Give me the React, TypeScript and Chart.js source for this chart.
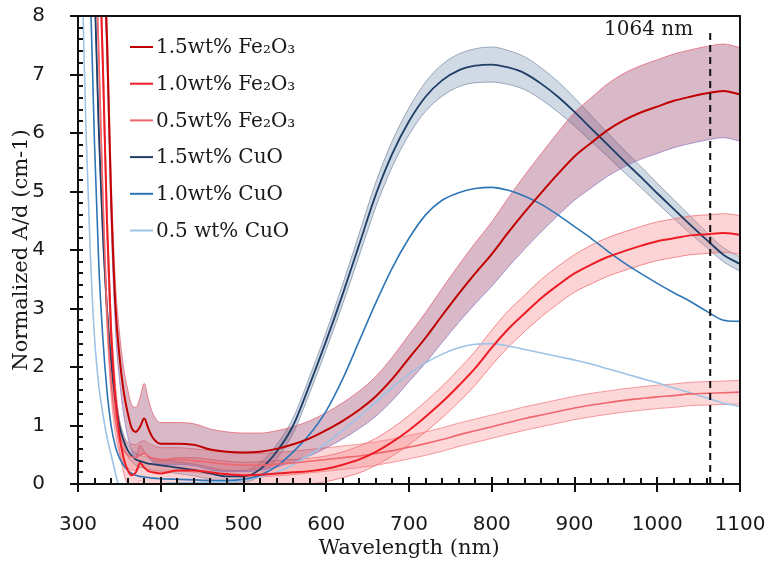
import React, { useEffect, useRef } from "react";
import { Chart, registerables } from "chart.js";

Chart.register(...registerables);

// ---------------- DATA ----------------
const WAVELENGTHS = [
  300, 305, 310, 315, 320, 325, 330, 335, 340, 345, 350, 355, 360, 365, 370, 375, 380, 385, 390,
  400, 420, 440, 460, 480, 500, 520, 540, 560, 580, 600, 620, 640, 660, 680, 700, 720, 740, 760, 780,
  800, 820, 840, 860, 880, 900, 920, 940, 960, 980, 1000, 1020, 1040, 1060, 1080, 1100,
];

const FE15 = [
  20, 18, 16, 14, 12.5, 11, 9.5, 7.6, 4.9, 3.1, 2.2, 1.6, 1.22, 0.95, 0.89, 0.98, 1.12, 0.95, 0.8,
  0.69, 0.69, 0.67, 0.59, 0.55, 0.54, 0.55, 0.6, 0.68, 0.78, 0.92, 1.08, 1.27, 1.5, 1.8, 2.15, 2.5, 2.88, 3.25, 3.6,
  3.93, 4.3, 4.65, 4.98, 5.3, 5.6, 5.83, 6.05, 6.22, 6.35, 6.45, 6.55, 6.62, 6.68, 6.72, 6.66,
];
const FE15_ERR = [
  0.4, 0.4, 0.4, 0.4, 0.4, 0.4, 0.4, 0.4, 0.4, 0.4, 0.4, 0.4, 0.4, 0.4, 0.42, 0.5, 0.6, 0.5, 0.42,
  0.36, 0.36, 0.36, 0.35, 0.34, 0.33, 0.32, 0.31, 0.3, 0.3, 0.3, 0.31, 0.32, 0.34, 0.37, 0.4, 0.43, 0.46, 0.49, 0.52,
  0.55, 0.59, 0.63, 0.67, 0.71, 0.75, 0.77, 0.79, 0.8, 0.8, 0.8, 0.8, 0.8, 0.8, 0.8, 0.8,
];

const FE10 = [
  18, 16, 14, 12.5, 11, 9.5, 7.2, 4.5, 2.6, 1.5, 0.85, 0.45, 0.24, 0.15, 0.2, 0.36, 0.28, 0.22, 0.2,
  0.18, 0.23, 0.23, 0.2, 0.17, 0.15, 0.16, 0.18, 0.2, 0.22, 0.26, 0.33, 0.42, 0.55, 0.72, 0.92, 1.15, 1.4, 1.68, 1.98,
  2.33, 2.65, 2.92, 3.18, 3.4, 3.6, 3.75, 3.88, 3.98, 4.07, 4.15, 4.2, 4.25, 4.27, 4.29, 4.26,
];
const FE10_ERR = [
  0.25, 0.25, 0.25, 0.25, 0.25, 0.25, 0.25, 0.25, 0.25, 0.25, 0.25, 0.25, 0.25, 0.25, 0.25, 0.3, 0.28, 0.25, 0.25,
  0.22, 0.22, 0.22, 0.22, 0.22, 0.22, 0.22, 0.22, 0.22, 0.22, 0.22, 0.22, 0.23, 0.23, 0.24, 0.25, 0.26, 0.27, 0.28, 0.29,
  0.3, 0.31, 0.31, 0.32, 0.32, 0.32, 0.33, 0.33, 0.33, 0.33, 0.33, 0.33, 0.33, 0.33, 0.33, 0.33,
];

const FE05 = [
  16, 14, 12.5, 11, 9.5, 7.4, 4.9, 2.9, 1.75, 1.1, 0.75, 0.58, 0.5, 0.46, 0.45, 0.5, 0.52, 0.47, 0.44,
  0.42, 0.42, 0.4, 0.37, 0.34, 0.32, 0.32, 0.34, 0.36, 0.39, 0.42, 0.45, 0.48, 0.52, 0.57, 0.63, 0.69, 0.76, 0.84, 0.91,
  0.98, 1.05, 1.12, 1.18, 1.24, 1.3, 1.35, 1.39, 1.43, 1.46, 1.49, 1.51, 1.54, 1.55, 1.56, 1.57,
];
const FE05_ERR = [
  0.22, 0.22, 0.22, 0.22, 0.22, 0.22, 0.22, 0.22, 0.22, 0.22, 0.22, 0.22, 0.22, 0.22, 0.22, 0.22, 0.22, 0.22, 0.22,
  0.2, 0.2, 0.2, 0.2, 0.2, 0.2, 0.2, 0.2, 0.2, 0.2, 0.2, 0.2, 0.2, 0.2, 0.2, 0.2, 0.2, 0.2, 0.2, 0.2,
  0.2, 0.2, 0.2, 0.2, 0.2, 0.2, 0.2, 0.2, 0.2, 0.2, 0.2, 0.2, 0.2, 0.2, 0.2, 0.2,
];

const CU15 = [
  16, 14, 12, 10.5, 8.5, 6.1, 4.3, 3.0, 2.1, 1.45, 1.0, 0.75, 0.58, 0.48, 0.42, 0.39, 0.37, 0.35, 0.34,
  0.32, 0.28, 0.24, 0.18, 0.13, 0.13, 0.25, 0.55, 1.0, 1.7, 2.45, 3.25, 4.1, 4.95, 5.65, 6.2, 6.62, 6.9, 7.07, 7.15,
  7.17, 7.12, 7.02, 6.84, 6.62, 6.36, 6.08, 5.8, 5.52, 5.25, 4.97, 4.7, 4.43, 4.17, 3.92, 3.76,
];
const CU15_ERR = [
  0.1, 0.1, 0.1, 0.1, 0.1, 0.1, 0.1, 0.1, 0.1, 0.1, 0.1, 0.1, 0.1, 0.1, 0.1, 0.1, 0.1, 0.1, 0.1,
  0.1, 0.1, 0.1, 0.1, 0.1, 0.1, 0.11, 0.12, 0.13, 0.14, 0.15, 0.17, 0.19, 0.21, 0.22, 0.23, 0.25, 0.27, 0.28, 0.29,
  0.3, 0.29, 0.28, 0.27, 0.26, 0.24, 0.22, 0.2, 0.19, 0.18, 0.17, 0.16, 0.15, 0.13, 0.12, 0.12,
];

const CU10 = [
  14, 12, 10.5, 8.4, 5.8, 3.8, 2.5, 1.6, 1.0, 0.65, 0.45, 0.32, 0.24, 0.18, 0.15, 0.13, 0.12, 0.11, 0.1,
  0.09, 0.08, 0.07, 0.06, 0.06, 0.08, 0.15, 0.3, 0.55, 0.85, 1.25, 1.8, 2.45, 3.1, 3.7, 4.2, 4.6, 4.85, 4.98, 5.05,
  5.07, 5.02, 4.92, 4.78, 4.6, 4.4, 4.2, 3.98, 3.78, 3.6, 3.43, 3.27, 3.12, 2.95, 2.8, 2.78,
];

const CU05 = [
  11, 8.6, 5.9, 3.9, 2.5, 1.7, 1.2, 0.8, 0.5, 0.2, -0.1, -0.3, -0.45, -0.5, -0.5, -0.45, -0.35, -0.25, -0.12,
  0.0, 0.02, 0.02, 0.03, 0.04, 0.06, 0.12, 0.2, 0.33, 0.5, 0.7, 0.92, 1.15, 1.4, 1.65, 1.88, 2.07, 2.22, 2.33, 2.39,
  2.4, 2.36, 2.3, 2.24, 2.18, 2.12, 2.05, 1.97, 1.89, 1.81, 1.73, 1.64, 1.56, 1.47, 1.38, 1.33,
];

const SERIES_LABELS = [
  "1.5wt% Fe\u2082O\u2083",
  "1.0wt% Fe\u2082O\u2083",
  "0.5wt% Fe\u2082O\u2083",
  "1.5wt% CuO",
  "1.0wt% CuO",
  "0.5 wt% CuO",
];

const X_TICKS = [300, 400, 500, 600, 700, 800, 900, 1000, 1100];
const Y_TICKS = [0, 1, 2, 3, 4, 5, 6, 7, 8];
const MARKER_NM = 1064;
const MARKER_LABEL = "1064 nm";
const X_TITLE = "Wavelength (nm)";
const Y_TITLE = "Normalized A/d (cm-1)";

// ---------------- STYLE ----------------
const SERIES = [
  { label: SERIES_LABELS[0], values: FE15, err: FE15_ERR, color: "#C00000", width: 2,
    band: "rgba(150,60,100,0.36)", edgeUp: "rgba(230,115,130,0.9)", edgeDown: "rgba(150,145,220,0.8)" },
  { label: SERIES_LABELS[1], values: FE10, err: FE10_ERR, color: "#EE1C25", width: 2,
    band: "rgba(246,120,125,0.32)", edgeUp: "rgba(240,120,125,0.85)", edgeDown: "rgba(240,120,125,0.85)" },
  { label: SERIES_LABELS[2], values: FE05, err: FE05_ERR, color: "#F0676E", width: 1.6,
    band: "rgba(246,125,130,0.3)", edgeUp: "rgba(242,130,135,0.8)", edgeDown: "rgba(242,130,135,0.8)" },
  { label: SERIES_LABELS[3], values: CU15, err: CU15_ERR, color: "#1F3D66", width: 1.8,
    band: "rgba(110,140,170,0.32)", edgeUp: "rgba(140,155,175,0.85)", edgeDown: "rgba(140,155,175,0.85)" },
  { label: SERIES_LABELS[4], values: CU10, err: null, color: "#2E75B6", width: 1.6 },
  { label: SERIES_LABELS[5], values: CU05, err: null, color: "#9DC3E6", width: 1.6 },
];

const TEXT_COLOR = "#1a1a1a";
const SERIF = "'DejaVu Serif', serif";
const SANS = "'DejaVu Sans', sans-serif";

function pts(vals: number[]) {
  return WAVELENGTHS.map((x, i) => ({ x, y: vals[i] }));
}

function buildDatasets() {
  const ds: any[] = [];
  SERIES.forEach((s) => {
    ds.push({
      label: s.label,
      data: pts(s.values),
      borderColor: s.color,
      borderWidth: s.width,
      pointRadius: 0,
      fill: false,
      cubicInterpolationMode: "monotone",
      order: 1,
    });
  });
  SERIES.forEach((s) => {
    if (!s.err) return;
    const up = s.values.map((v, i) => v + (s.err as number[])[i]);
    const lo = s.values.map((v, i) => v - (s.err as number[])[i]);
    ds.push({
      label: "",
      data: pts(up),
      borderColor: s.edgeUp,
      borderWidth: 1,
      pointRadius: 0,
      backgroundColor: s.band,
      fill: "+1",
      cubicInterpolationMode: "monotone",
      order: 5,
    });
    ds.push({
      label: "",
      data: pts(lo),
      borderColor: s.edgeDown,
      borderWidth: 1,
      pointRadius: 0,
      fill: false,
      cubicInterpolationMode: "monotone",
      order: 5,
    });
  });
  return ds;
}

const decorPlugin = {
  id: "decor",
  afterDraw(chart: any) {
    const { ctx, chartArea: a, scales } = chart;
    const xs = scales.x;
    const ys = scales.y;
    ctx.save();
    ctx.strokeStyle = "#111";
    ctx.lineWidth = 2;
    ctx.setLineDash([]);
    // frame
    ctx.beginPath();
    ctx.moveTo(a.left, a.top);
    ctx.lineTo(a.right, a.top);
    ctx.lineTo(a.right, a.bottom);
    ctx.lineTo(a.left, a.bottom);
    ctx.closePath();
    ctx.stroke();
    // y ticks
    ctx.beginPath();
    for (let k = 0; k <= 40; k++) {
      const v = Y_TICKS[0] + k * 0.2;
      const py = Math.round(ys.getPixelForValue(v));
      if (k % 5 === 0) {
        ctx.moveTo(a.left - 8, py);
        ctx.lineTo(a.left + 5, py);
      } else {
        ctx.moveTo(a.left, py);
        ctx.lineTo(a.left + 5, py);
      }
    }
    // x ticks
    for (let k = 0; k <= 40; k++) {
      const v = X_TICKS[0] + k * 20;
      const px = Math.round(xs.getPixelForValue(v));
      if (k % 5 === 0) {
        ctx.moveTo(px, a.bottom - 7);
        ctx.lineTo(px, a.bottom + 8);
      } else {
        ctx.moveTo(px, a.bottom - 6);
        ctx.lineTo(px, a.bottom);
      }
    }
    ctx.stroke();

    // 1064 nm marker
    const mx = xs.getPixelForValue(MARKER_NM);
    ctx.beginPath();
    ctx.setLineDash([7, 5]);
    ctx.moveTo(mx, 33);
    ctx.lineTo(mx, a.bottom);
    ctx.stroke();
    ctx.setLineDash([]);
    ctx.fillStyle = TEXT_COLOR;
    ctx.font = `20px ${SERIF}`;
    ctx.textAlign = "right";
    ctx.textBaseline = "middle";
    ctx.fillText(MARKER_LABEL, mx - 17, 30);

    // axis titles
    ctx.textAlign = "center";
    ctx.font = `21px ${SERIF}`;
    ctx.fillText(X_TITLE, (a.left + a.right) / 2, 549);
    ctx.save();
    ctx.translate(22, (a.top + a.bottom) / 2);
    ctx.rotate(-Math.PI / 2);
    ctx.fillText(Y_TITLE, 0, 0);
    ctx.restore();

    // legend
    ctx.textAlign = "left";
    ctx.font = `20px ${SERIF}`;
    SERIES.forEach((s, i) => {
      const cy = 47 + i * 36.7;
      ctx.strokeStyle = s.color;
      ctx.lineWidth = 2;
      ctx.beginPath();
      ctx.moveTo(130, cy);
      ctx.lineTo(153, cy);
      ctx.stroke();
      ctx.fillStyle = TEXT_COLOR;
      ctx.fillText(s.label, 156, cy + 1);
    });
    ctx.restore();
  },
};

export default function App() {
  const ref = useRef<HTMLCanvasElement>(null);
  useEffect(() => {
    document.body.style.margin = "0";
    const canvas = ref.current;
    if (!canvas) return;
    const chart = new Chart(canvas, {
      type: "line",
      data: { datasets: buildDatasets() },
      options: {
        animation: false,
        responsive: false,
        devicePixelRatio: 1,
        layout: { padding: { top: 16, right: 30, left: 0, bottom: 0 } },
        plugins: {
          legend: { display: false },
          tooltip: { enabled: false },
        },
        scales: {
          x: {
            type: "linear",
            min: X_TICKS[0],
            max: X_TICKS[X_TICKS.length - 1],
            grid: { display: false },
            border: { display: false },
            ticks: {
              stepSize: 100,
              maxRotation: 0,
              autoSkip: false,
              padding: 21,
              color: TEXT_COLOR,
              font: { family: SANS, size: 20 },
              callback: (v: any) => String(v),
            },
            afterFit: (s: any) => {
              s.height = 83;
              s.paddingLeft = 0;
              s.paddingRight = 0;
            },
          },
          y: {
            min: Y_TICKS[0],
            max: Y_TICKS[Y_TICKS.length - 1],
            grid: { display: false },
            border: { display: false },
            ticks: {
              stepSize: 1,
              padding: 25,
              color: TEXT_COLOR,
              font: { family: SANS, size: 20 },
              callback: (v: any) => String(v),
            },
            afterFit: (s: any) => {
              s.width = 78;
              s.paddingTop = 0;
              s.paddingBottom = 0;
            },
          },
        },
      } as any,
      plugins: [decorPlugin],
    });
    return () => chart.destroy();
  }, []);
  return (
    <div style={{ width: 770, height: 567 }}>
      <canvas ref={ref} width={770} height={567} style={{ display: "block", width: 770, height: 567 }} />
    </div>
  );
}
